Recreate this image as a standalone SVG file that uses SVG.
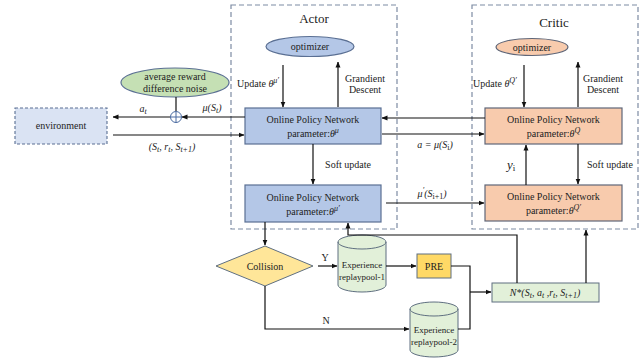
<svg xmlns="http://www.w3.org/2000/svg" width="644" height="359" viewBox="0 0 644 359">
<defs>
<marker id="ah" markerWidth="6" markerHeight="6" refX="5.5" refY="3" orient="auto" markerUnits="userSpaceOnUse">
<path d="M0,0.5 L6,3 L0,5.5 Z" fill="#111"/>
</marker>
<style>
text{font-family:"Liberation Serif","Times New Roman",serif;fill:#222;font-size:10px}
.m{text-anchor:middle}
.i{font-style:italic}
.sup{font-size:8px}
.dash{fill:none;stroke:#7d8ba3;stroke-width:1.2;stroke-dasharray:5,3}
.blue{fill:#b4c7e7;stroke:#5a6f93;stroke-width:1.2}
.org{fill:#f8cbad;stroke:#5f6678;stroke-width:1.2}
.grn{fill:#e2f0d9;stroke:#5f6f80;stroke-width:1}
.ln{fill:none;stroke:#111;stroke-width:1.2}
.ar{fill:none;stroke:#111;stroke-width:1.2;marker-end:url(#ah)}
</style>
</defs>

<g id="actor-frame"><rect class="dash" x="231" y="5" width="166" height="224"/><text class="m" x="314" y="23" style="font-size:13px">Actor</text></g>
<g id="critic-frame"><rect class="dash" x="472" y="5" width="166" height="224"/><text class="m" x="554" y="27" style="font-size:13px">Critic</text></g>

<g id="actor-optimizer"><ellipse class="blue" cx="310" cy="46.5" rx="44" ry="10"/><text class="m" x="310" y="50">optimizer</text></g>
<g id="critic-optimizer"><ellipse class="org" cx="532" cy="47" rx="36" ry="8.5"/><text class="m" x="532" y="50.5">optimizer</text></g>

<g id="environment"><rect x="15" y="108" width="92" height="36" fill="#dae3f3" stroke="#5a6f93" stroke-width="1.1" stroke-dasharray="3,2"/><text class="m" x="61" y="129">environment</text></g>

<g id="noise"><ellipse cx="175" cy="82.5" rx="54" ry="14.5" fill="#c5e0b4" stroke="#5a6f93" stroke-width="1.2"/><text class="m" x="175" y="80">average reward</text><text class="m" x="175" y="92">difference noise</text></g>

<g id="oplus"><circle cx="176" cy="117" r="5.5" fill="none" stroke="#4a6aa0" stroke-width="1"/><path d="M170.5,117 H181.5 M176,111.5 V122.5" stroke="#4a6aa0" stroke-width="1"/></g>

<g id="actor-online"><rect class="blue" x="245" y="108" width="136" height="36"/><text class="m" x="313" y="123">Online Policy Network</text><text class="m" x="313" y="137">parameter:<tspan class="i">θ</tspan><tspan class="i sup" dy="-4">μ</tspan></text></g>
<g id="actor-target"><rect class="blue" x="245" y="185" width="136" height="37"/><text class="m" x="313" y="201">Online Policy Network</text><text class="m" x="313" y="215">parameter:<tspan class="i">θ</tspan><tspan class="i sup" dy="-4">μ′</tspan></text></g>
<g id="critic-online"><rect class="org" x="485" y="108" width="137" height="36"/><text class="m" x="553.5" y="123">Online Policy Network</text><text class="m" x="553.5" y="137">parameter:<tspan class="i">θ</tspan><tspan class="i sup" dy="-4">Q</tspan></text></g>
<g id="critic-target"><rect class="org" x="485" y="185" width="137" height="36"/><text class="m" x="553.5" y="200">Online Policy Network</text><text class="m" x="553.5" y="214">parameter:<tspan class="i">θ</tspan><tspan class="i sup" dy="-4">Q′</tspan></text></g>

<g id="collision"><path d="M265,246 L313,266 L265,286 L216,266 Z" fill="#ffe699" stroke="#5f6f80" stroke-width="1"/><text class="m" x="265" y="270">Collision</text></g>

<g id="pool1"><path class="grn" d="M338,242 A24,7 0 0 1 386,242 V285 A24,7 0 0 1 338,285 Z"/><path d="M338,242 A24,7 0 0 0 386,242" fill="none" stroke="#5f6f80" stroke-width="1"/><text class="m" x="362" y="268" style="font-size:9px">Experience</text><text class="m" x="362" y="280" style="font-size:9px">replaypool-1</text></g>
<g id="pool2"><path class="grn" d="M410,309 A24,7 0 0 1 458,309 V350 A24,7 0 0 1 410,350 Z"/><path d="M410,309 A24,7 0 0 0 458,309" fill="none" stroke="#5f6f80" stroke-width="1"/><text class="m" x="434" y="333" style="font-size:9px">Experience</text><text class="m" x="434" y="345" style="font-size:9px">replaypool-2</text></g>

<g id="pre"><rect x="417" y="254" width="34" height="24" fill="#ffd966" stroke="#5f6f80" stroke-width="1"/><text class="m" x="434" y="270">PRE</text></g>

<g id="sample"><rect class="grn" x="492" y="283" width="107" height="19"/><text class="m i" x="545" y="296"><tspan>N*(S</tspan><tspan class="sup" dy="2">t</tspan><tspan dy="-2">, a</tspan><tspan class="sup" dy="2">t</tspan><tspan dy="-2"> ,r</tspan><tspan class="sup" dy="2">t</tspan><tspan dy="-2">, S</tspan><tspan class="sup" dy="2">t+1</tspan><tspan dy="-2">)</tspan></text></g>

<g id="connectors">
<path class="ar" d="M283,65 V107"/>
<path class="ar" d="M338,107 V62"/>
<path class="ar" d="M524,65 V107"/>
<path class="ar" d="M578,107 V62"/>
<path class="ln" d="M176,97 V111"/>
<path class="ar" d="M245,117 H182"/>
<path class="ar" d="M170,117 H113"/>
<path class="ar" d="M113,135 H244"/>
<path class="ar" d="M485,118 H382"/>
<path class="ar" d="M382,134 H484"/>
<path class="ar" d="M313,144 V184"/>
<path class="ar" d="M386,203 H484"/>
<path class="ar" d="M526,185 V145"/>
<path class="ar" d="M578,144 V184"/>
<path class="ar" d="M265,222 V245"/>
<path class="ar" d="M318,266 H337"/>
<path class="ar" d="M386,266 H416"/>
<path class="ln" d="M451,266 H470 V329 H458"/>
<path class="ar" d="M470,292 H491"/>
<path class="ar" d="M265,286 V329 H409"/>
<path class="ar" d="M517,283 V235 H348 V223"/>
<path class="ar" d="M586,283 V230"/>
</g>

<g id="labels">
<text x="237" y="87">Update <tspan class="i">θ</tspan><tspan class="i sup" dy="-4">μ′</tspan></text>
<text class="m" x="365" y="82">Grandient</text><text class="m" x="365" y="93">Descent</text>
<text x="473" y="87">Update <tspan class="i">θ</tspan><tspan class="i sup" dy="-4">Q′</tspan></text>
<text class="m" x="603" y="82">Grandient</text><text class="m" x="603" y="93">Descent</text>
<text class="m i" x="143" y="112">a<tspan class="sup" dy="2">t</tspan></text>
<text class="m i" x="212" y="111">μ(S<tspan class="sup" dy="2">t</tspan><tspan dy="-2">)</tspan></text>
<text class="m i" x="172" y="150">(S<tspan class="sup" dy="2">t</tspan><tspan dy="-2">, r</tspan><tspan class="sup" dy="2">t</tspan><tspan dy="-2">, S</tspan><tspan class="sup" dy="2">t+1</tspan><tspan dy="-2">)</tspan></text>
<text class="m i" x="435" y="148">a = μ(S<tspan class="sup" dy="2" style="font-style:normal">i</tspan><tspan dy="-2">)</tspan></text>
<text class="m" x="348" y="168">Soft update</text>
<text class="m i" x="432" y="197">μ<tspan class="sup" dy="-4">′</tspan><tspan dy="4">(S</tspan><tspan class="sup" dy="2" style="font-style:normal">i+1</tspan><tspan dy="-2">)</tspan></text>
<text class="i" x="507" y="169" style="font-size:13px">y<tspan style="font-size:9px;font-style:normal" dy="2">i</tspan></text>
<text x="587" y="168">Soft update</text>
<text class="m" x="325" y="261">Y</text>
<text class="m" x="326" y="324">N</text>
</g>
</svg>
